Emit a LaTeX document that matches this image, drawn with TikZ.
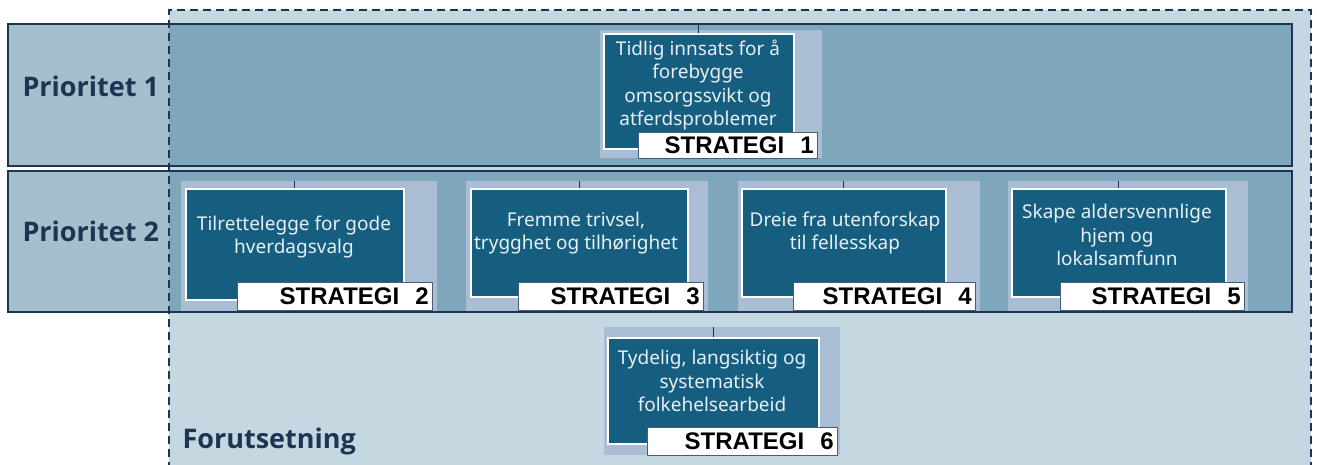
\documentclass[tikz,border=0pt]{standalone}
\usepackage{fontspec}
\setmainfont{Noto Sans}
\newfontfamily\labelfont{Liberation Sans}
\newfontfamily\headfont{Open Sans}
\definecolor{navy}{HTML}{1C3553}
\definecolor{paleblue}{HTML}{C5D7E1}
\definecolor{bandblue}{HTML}{A4C0CE}
\definecolor{banddark}{HTML}{7FA7BB}
\definecolor{cardback}{HTML}{A9BDD5}
\definecolor{darkteal}{HTML}{155E80}
\definecolor{cardtext}{HTML}{E6EFF4}
\begin{document}
\begin{tikzpicture}[x=1pt,y=-1pt,
  band/.style={draw=navy,line width=1.8pt},
  cardbg/.style={fill=cardback,inner sep=0,anchor=north west},
  darkbox/.style={fill=darkteal,draw=white,line width=1.6pt,inner sep=0,anchor=north west},
  labelbox/.style={fill=white,draw=navy!80,line width=1.2pt,inner xsep=4pt,inner ysep=0,anchor=north west,
    font=\labelfont\bfseries\fontsize{24}{24}\selectfont,align=right},
  cardtxt/.style={text=cardtext,align=center,font=\fontsize{19}{23.5}\selectfont},
  head/.style={text=navy,font=\headfont\bfseries\fontsize{27}{27}\selectfont},
  tick/.style={draw=navy,line width=1.2pt}]
 \useasboundingbox (0,0) rectangle (1317,465);
 % forutsetning + prioriteter
 \fill[paleblue] (169,10) rectangle (1311,470);
 \fill[bandblue] (8,24) rectangle (1292,166);
 \fill[bandblue] (8,171) rectangle (1292,312);
 \fill[banddark] (169,24) rectangle (1292,166);
 \fill[banddark] (169,171) rectangle (1292,312);
 \draw[band] (8,24) rectangle (1292,166);
 \draw[band] (8,171) rectangle (1292,312);
 \draw[navy,line width=1.6pt,dash pattern=on 8pt off 5pt] (169,470)--(169,10)--(1311,10)--(1311,470);
 \node[head,anchor=west] (p1) at (19,86) {Prioritet 1};
 \node[head,anchor=west] (p2) at (19,231) {Prioritet 2};
 \node[head,anchor=west] (fu) at (179,441) {Forutsetning};
 % strategi 1
 \node[cardbg,minimum width=222,minimum height=128] (bg1) at (600,30) {};
 \node[darkbox,minimum width=190,minimum height=115] (d1) at (603,33) {};
 \draw[tick] (d1.north)--++(0,-9);
 \node[cardtxt] (t1) at (698,85) {Tidlig innsats for å\\forebygge\\omsorgssvikt og\\atferdsproblemer};
 \node[labelbox,text width=171pt,minimum height=26] (l1) at (638,132) {STRATEGI\ \ 1};
 % strategi 2
 \node[cardbg,minimum width=256,minimum height=130] (bg2) at (181,181) {};
 \node[darkbox,minimum width=218,minimum height=111] (d2) at (185,188) {};
 \draw[tick] (d2.north)--++(0,-7);
 \node[cardtxt] (t2) at (294,237) {Tilrettelegge for gode\\hverdagsvalg};
 \node[labelbox,text width=187pt,minimum height=28] (l2) at (237,282) {STRATEGI\ \ 2};
 % strategi 3
 \node[cardbg,minimum width=242,minimum height=130] (bg3) at (466,181) {};
 \node[darkbox,minimum width=217,minimum height=108] (d3) at (470,188) {};
 \draw[tick] (d3.north)--++(0,-7);
 \node[cardtxt] (t3) at (576,233) {Fremme trivsel,\\trygghet og tilhørighet};
 \node[labelbox,text width=177pt,minimum height=28] (l3) at (518,282) {STRATEGI\ \ 3};
 % strategi 4
 \node[cardbg,minimum width=242,minimum height=130] (bg4) at (738,181) {};
 \node[darkbox,minimum width=204,minimum height=108] (d4) at (741,188) {};
 \draw[tick] (d4.north)--++(0,-7);
 \node[cardtxt] (t4) at (845,233) {Dreie fra utenforskap\\til fellesskap};
 \node[labelbox,text width=174pt,minimum height=28] (l4) at (793,282) {STRATEGI\ \ 4};
 % strategi 5
 \node[cardbg,minimum width=240,minimum height=130] (bg5) at (1008,181) {};
 \node[darkbox,minimum width=214,minimum height=108] (d5) at (1011,188) {};
 \draw[tick] (d5.north)--++(0,-7);
 \node[cardtxt] (t5) at (1117,235) {Skape aldersvennlige\\hjem og\\lokalsamfunn};
 \node[labelbox,text width=176pt,minimum height=28] (l5) at (1060,282) {STRATEGI\ \ 5};
 % strategi 6
 \node[cardbg,minimum width=236,minimum height=128] (bg6) at (604,327) {};
 \node[darkbox,minimum width=211,minimum height=106] (d6) at (607,337) {};
 \draw[tick] (d6.north)--++(0,-10);
 \node[cardtxt] (t6) at (712,381) {Tydelig, langsiktig og\\systematisk\\folkehelsearbeid};
 \node[labelbox,text width=182pt,minimum height=28] (l6) at (647,427) {STRATEGI\ \ 6};
\end{tikzpicture}
\end{document}
